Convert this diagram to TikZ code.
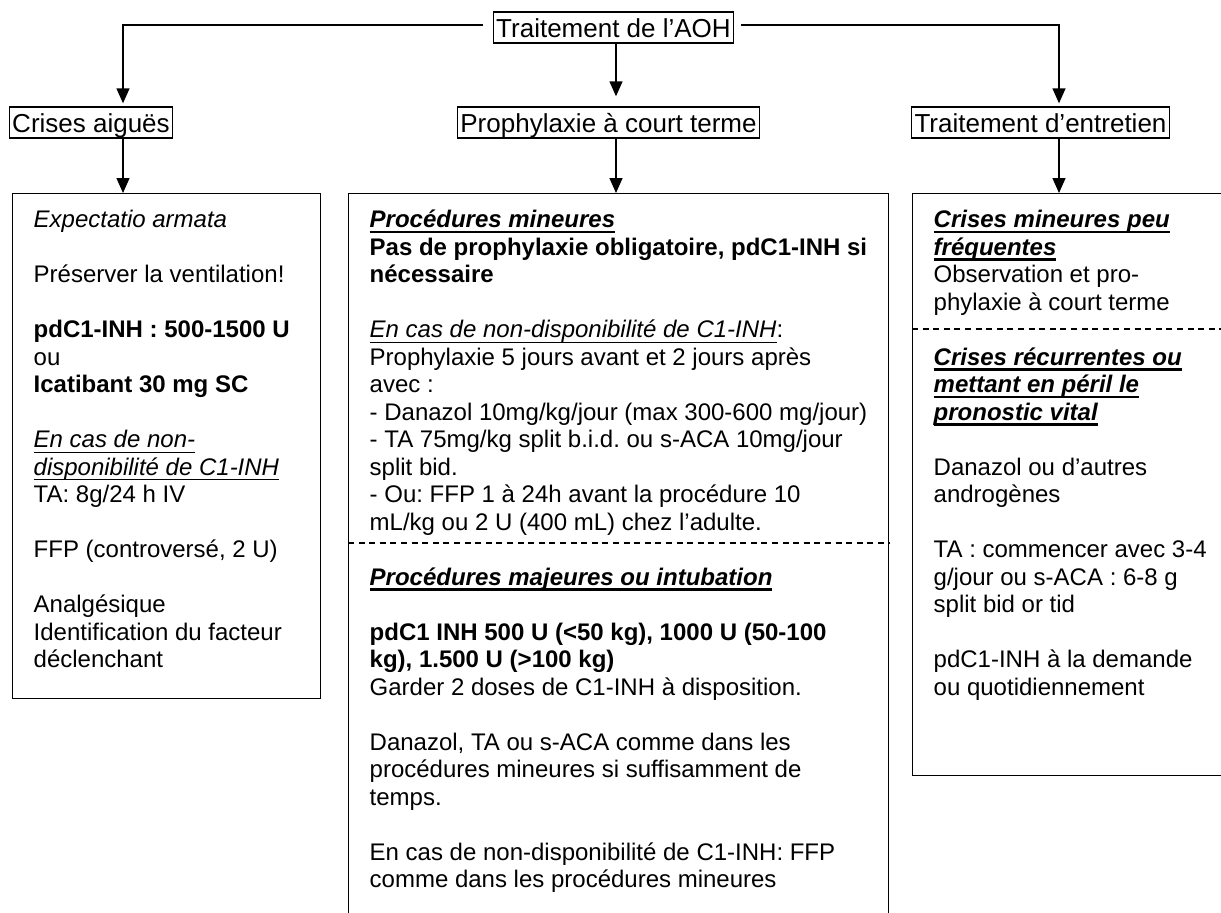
\documentclass[tikz,border=0pt]{standalone}
\usepackage{fontspec}
\setmainfont{Liberation Sans}
\usetikzlibrary{arrows.meta}
\frenchspacing
\newcommand{\ulit}[1]{\setbox0=\hbox{\itshape #1}\rlap{\rule[-2.4pt]{\wd0}{0.5pt}}\box0}
\newcommand{\ulbf}[1]{\setbox0=\hbox{\bfseries\itshape #1}\rlap{\rule[-2.7pt]{\wd0}{1.3pt}}\box0}
\newcommand{\skipline}{\\[13.75pt]}
\newcommand{\firstln}{\rule{0pt}{10pt}}

\begin{document}
\begin{tikzpicture}[x=.5pt, y=-.5pt, line width=.7pt]
    \tikzstyle{dp}=[dash pattern=on 3pt off 2.3pt]
    \tikzstyle{lbl}=[draw, font=\fontsize{13}{15}\selectfont, inner xsep=1.5pt, inner ysep=1.5pt, text height=11pt, text depth=1.5pt]
    \tikzstyle{frm}=[draw, anchor=north west, inner sep=0]
    \tikzstyle{txt}=[anchor=north west, inner sep=0, align=left, font=\fontsize{12}{13.75}\selectfont]
    \tikzstyle{arr}=[-{Triangle[length=7.5pt,width=6.5pt]}]
    \useasboundingbox (0,0) rectangle (1221,912);
    \clip (0,0) rectangle (1221,912);
    \coordinate (lcol) at (123,0);
    \coordinate (mcol) at (616,0);
    \coordinate (rcol) at (1059,0);

    \node[lbl] (aoh) at (613.5,27.5) {Traitement de l’AOH};
    \node[lbl] (crises) at (91,122.5) {Crises aiguës};
    \node[lbl] (prophy) at (608.5,122.5) {Prophylaxie à court terme};
    \node[lbl] (entret) at (1040.5,122.5) {Traitement d’entretien};

    \node[frm, minimum width=154pt, minimum height=252.5pt] (acutebox) at (12,193) {};
    \node[frm, minimum width=270pt, minimum height=361.5pt] (shortbox) at (348,193) {};
    \node[frm, minimum width=164pt, minimum height=291pt] (longbox) at (912,193) {};

    \draw[arr, shorten >=1.5pt] ([xshift=-5pt,yshift=1.25pt]aoh.west) -| (crises.north -| lcol);
    \draw[arr, shorten >=1.5pt] ([xshift=3.5pt,yshift=1.25pt]aoh.east) -| (entret.north -| rcol);
    \draw[arr, shorten >=5pt] (aoh.south -| mcol) -- (prophy.north -| mcol);
    \draw[arr] (crises.south -| lcol) -- (acutebox.north -| lcol);
    \draw[arr] (prophy.south -| mcol) -- (shortbox.north -| mcol);
    \draw[arr] (entret.south -| rcol) -- (longbox.north -| rcol);

    \coordinate (sepmid) at ([yshift=-175pt]shortbox.north west);
    \coordinate (sepright) at ([yshift=-68pt]longbox.north west);
    \draw[dp] (sepmid) -- (sepmid -| shortbox.east);
    \draw[dp] (sepright) -- (sepright -| longbox.east);

    \node[txt] (acutetxt) at ([xshift=10.5pt,yshift=-7pt]acutebox.north west) {\firstln\textit{Expectatio armata}\skipline
        Préserver la ventilation!\skipline
        \textbf{pdC1-INH : 500-1500 U}\\
        ou\\
        \textbf{Icatibant 30 mg SC}\skipline
        \ulit{En cas de non-}\\
        \ulit{disponibilité de C1-INH}\\
        TA: 8g/24 h IV\skipline
        FFP (controversé, 2 U)\skipline
        Analgésique\\
        Identification du facteur\\
        déclenchant};
    \node[txt] (minortxt) at ([xshift=10.5pt,yshift=-7pt]shortbox.north west) {\firstln\ulbf{Procédures mineures}\\
        \textbf{Pas de prophylaxie obligatoire, pdC1-INH si}\\
        \textbf{nécessaire}\skipline
        \ulit{En cas de non-disponibilité de C1-INH}:\\
        Prophylaxie 5 jours avant et 2 jours après\\
        avec :\\
        - Danazol 10mg/kg/jour (max 300-600 mg/jour)\\
        - TA 75mg/kg split b.i.d. ou s-ACA 10mg/jour\\
        split bid.\\
        - Ou: FFP 1 à 24h avant la procédure 10\\
        mL/kg ou 2 U (400 mL) chez l’adulte.};
    \node[txt] (majortxt) at ([xshift=10.5pt,yshift=-10.75pt]sepmid) {\firstln\ulbf{Procédures majeures ou intubation}\skipline
        \textbf{pdC1 INH 500 U (<50 kg), 1000 U (50-100}\\
        \textbf{kg), 1.500 U (>100 kg)}\\
        Garder 2 doses de C1-INH à disposition.\skipline
        Danazol, TA ou s-ACA comme dans les\\
        procédures mineures si suffisamment de\\
        temps.\skipline
        En cas de non-disponibilité de C1-INH: FFP\\
        comme dans les procédures mineures};
    \node[txt] (raretxt) at ([xshift=10.5pt,yshift=-7pt]longbox.north west) {\firstln\ulbf{Crises mineures peu}\\
        \ulbf{fréquentes}\\
        Observation et pro-\\
        phylaxie à court terme};
    \node[txt] (severetxt) at ([xshift=10.5pt,yshift=-7.75pt]sepright) {\firstln\ulbf{Crises récurrentes ou}\\
        \ulbf{mettant en péril le}\\
        \ulbf{pronostic vital}\skipline
        Danazol ou d’autres\\
        androgènes\skipline
        TA : commencer avec 3-4\\
        g/jour ou s-ACA : 6-8 g\\
        split bid or tid\skipline
        pdC1-INH à la demande\\
        ou quotidiennement};
\end{tikzpicture}
\end{document}
